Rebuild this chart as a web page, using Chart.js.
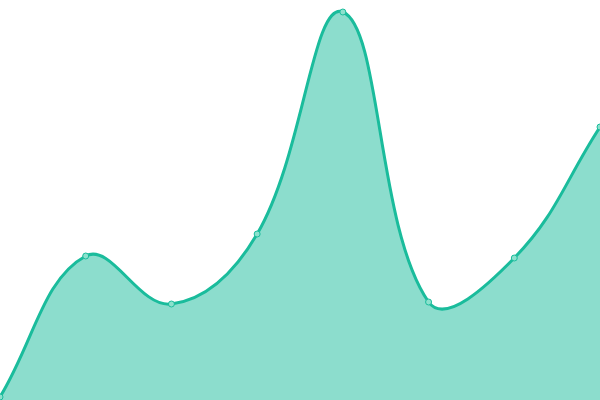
<!DOCTYPE html>
<html>
<head>
<meta charset="utf-8">
<script src="https://cdn.jsdelivr.net/npm/chart.js@4"></script>
<style>
  html, body { margin: 0; padding: 0; background: #fff; }
  #wrap { width: 600px; height: 400px; }
</style>
</head>
<body>
<div id="wrap"><canvas id="chart"></canvas></div>
<script>
const ctx = document.getElementById('chart');

const labels = ["1", "2", "3", "4", "5", "6", "7", "8"];
const values = [3, 144, 96, 166, 388, 98, 142, 273];

new Chart(ctx, {
  type: "line",
  data: {
    labels: labels,
    datasets: [{
      data: values,
      fill: true,
      tension: 0.4,
      borderWidth: 3,
      borderColor: "#1abc9c",
      backgroundColor: "rgba(26,188,156,0.5)",
      pointRadius: 3,
      pointBorderWidth: 1,
      pointBorderColor: "#1abc9c",
      pointBackgroundColor: "rgba(140,225,205,1)"
    }]
  },
  options: {
    responsive: true,
    maintainAspectRatio: false,
    animation: false,
    layout: { padding: 0, autoPadding: false },
    plugins: {
      legend: { display: false },
      tooltip: { enabled: false }
    },
    scales: {
      x: { display: false, offset: false },
      y: { display: false, min: 0, max: 400 }
    }
  }
});
</script>
</body>
</html>
